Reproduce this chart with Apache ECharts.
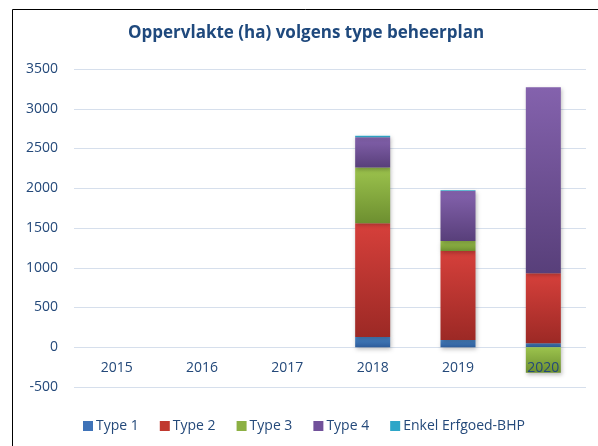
<!DOCTYPE html>
<html lang="nl">
<head>
    <meta charset="UTF-8">
    <title>Oppervlakte per type beheerplan</title>
    <style>
        body { margin: 0; background: #fff; }
        #chart { width: 598px; height: 446px; }
    </style>
    <script src="https://cdn.jsdelivr.net/npm/echarts@6/dist/echarts.min.js"></script>
</head>
<body>
    <div id="chart"></div>
    <script>
        // data
        var years = ['2015', '2016', '2017', '2018', '2019', '2020'];
        var type1 = [0, 0, 0, 130, 90, 50];
        var type2 = [0, 0, 0, 1430, 1120, 880];
        var type3 = [0, 0, 0, 700, 125, -320];
        var type4 = [0, 0, 0, 380, 630, 2340];
        var enkel = [0, 0, 0, 20, 10, 0];

        var chart = echarts.init(document.getElementById('chart'));
        var textColor = '#24497a';

        function grad(top, bottom) {
            return new echarts.graphic.LinearGradient(0, 0, 0, 1, [
                {offset: 0, color: top},
                {offset: 1, color: bottom}
            ]);
        }

        function bar(name, data, top, bottom) {
            return {
                name: name,
                type: 'bar',
                stack: 'total',
                barWidth: 35,
                data: data,
                itemStyle: {
                    color: grad(top, bottom),
                    shadowColor: 'rgba(0,0,0,0.25)',
                    shadowBlur: 4,
                    shadowOffsetX: 1,
                    shadowOffsetY: 2
                }
            };
        }

        var option = {
            animation: false,
            textStyle: { fontFamily: 'Open Sans' },
            title: {
                text: 'Oppervlakte (ha) volgens type beheerplan',
                left: 123,
                top: 20,
                textStyle: { color: '#1f497d', fontSize: 17, fontWeight: 'bold', fontFamily: 'Open Sans' }
            },
            graphic: [{
                type: 'rect',
                shape: { x: 12.5, y: 9.5, width: 700, height: 500 },
                style: { fill: 'none', stroke: '#000', lineWidth: 1 }
            }],
            legend: {
                bottom: 8,
                left: 78,
                itemWidth: 10,
                itemHeight: 10,
                itemGap: 21,
                icon: 'rect',
                textStyle: { color: textColor, fontSize: 14, padding: [0, 0, 0, -2] },
                data: [
                    {name: 'Type 1', itemStyle: {color: '#3f73b8'}},
                    {name: 'Type 2', itemStyle: {color: '#c0392f'}},
                    {name: 'Type 3', itemStyle: {color: '#8cb043'}},
                    {name: 'Type 4', itemStyle: {color: '#71519a'}},
                    {name: 'Enkel Erfgoed-BHP', itemStyle: {color: '#2ea6c8'}}
                ]
            },
            grid: { left: 74, right: 12, top: 69, bottom: 59 },
            xAxis: {
                type: 'category',
                data: years,
                offset: -40,
                z: 10,
                axisLine: { show: false, onZero: false },
                axisTick: { show: false },
                axisLabel: {
                    color: textColor, fontSize: 14, margin: 14,
                    interval: 0, showMinLabel: true, showMaxLabel: true, hideOverlap: false
                }
            },
            yAxis: {
                type: 'value',
                min: -500,
                max: 3500,
                interval: 500,
                axisLabel: { color: textColor, fontSize: 14, margin: 16, formatter: function (v) { return String(v); } },
                splitLine: { lineStyle: { color: '#d6dfec', width: 1 } }
            },
            series: [
                bar('Type 1', type1, '#4a86c8', '#2d5c9a'),
                bar('Type 2', type2, '#d6403b', '#9c2925'),
                bar('Type 3', type3, '#9cc34d', '#6d8f30'),
                bar('Type 4', type4, '#8462ad', '#583f7a'),
                bar('Enkel Erfgoed-BHP', enkel, '#37b3d4', '#2388a8')
            ]
        };

        chart.setOption(option);
    </script>
</body>
</html>
